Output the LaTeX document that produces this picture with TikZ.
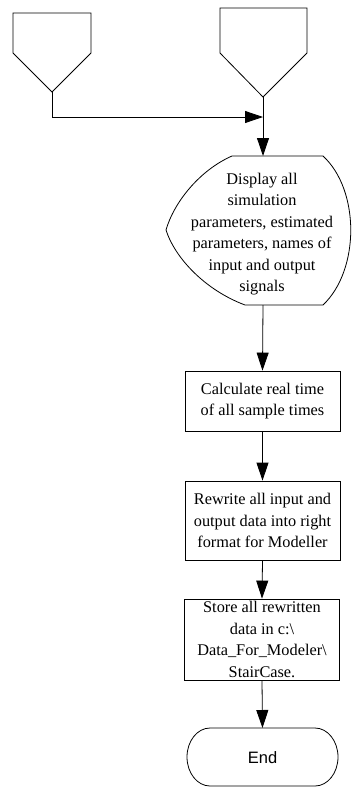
\documentclass[tikz,border=0pt]{standalone}
\usepackage{fontspec}
\setmainfont{Liberation Serif}
\newfontfamily\endfont{Liberation Sans}
\usetikzlibrary{arrows.meta}

\tikzset{
  line/.style={line width=0.8pt, line join=miter},
  flow/.style={line, -{Triangle[length=18pt,width=12pt]}},
  procbox/.style={line, draw, rectangle, minimum width=155pt, inner sep=0pt,
    align=center, font=\fontsize{16.3}{21.5}\selectfont},
  label/.style={align=center, inner sep=0pt, font=\fontsize{16.3}{21.5}\selectfont},
}

\begin{document}
\begin{tikzpicture}[x=1pt, y=-1pt]
\useasboundingbox (0,0) rectangle (352,787);

% off-page connectors at the top
\draw[line] (13,13) -- (91,13) -- (91,53) -- (52,92) -- (13,53) -- cycle;
\coordinate (leftin) at (52,92);
\draw[line] (220,8) -- (307,8) -- (307,53) -- (263,97) -- (220,53) -- cycle;
\coordinate (rightin) at (263,97);
\coordinate (bend) at (52,117);
\coordinate (join) at (263,117);

% display symbol
\draw[line] (232,156) -- (323,156)
  .. controls (360,190) and (360,270) .. (323,305)
  -- (245,305)
  .. controls (205,290) and (175,258) .. (166,230)
  .. controls (174,202) and (200,170) .. (232,156) -- cycle;
\coordinate (disptop) at (263,156);
\coordinate (dispbot) at (263,305);
\node[label] (disptext) at (262,234)
  {Display all\\ simulation\\ parameters, estimated\\ parameters, names of\\ input and output\\ signals};

% process boxes
\node[procbox, minimum height=60pt] (calc) at (262.5,401)
  {Calculate real time\\ of all sample times};
\node[procbox, minimum height=79pt] (rewrite) at (262.5,520.5)
  {Rewrite all input and\\ output data into right\\ format for Modeller};
\node[procbox, minimum height=81pt] (store) at (262,639.5)
  {Store all rewritten\\ data in c:\textbackslash\\ Data\_For\_Modeler\textbackslash\\ StairCase.};

% terminator
\draw[line] (210,728) -- (315,728) arc[start angle=90, end angle=-90, x radius=23, y radius=-29]
  -- (210,786) arc[start angle=270, end angle=90, x radius=23, y radius=-29] -- cycle;
\coordinate (endtop) at (262.5,728);
\node[inner sep=0pt, font=\endfont\fontsize{16.5}{20}\selectfont] (endtext) at (262.5,758) {End};

% connectors
\draw[line] (leftin) -- (bend);
\draw[flow] (bend) -- (join);
\draw[flow] (rightin) -- (disptop);
\draw[flow] (dispbot) -- (calc.north);
\draw[flow] (calc.south) -- (rewrite.north);
\draw[flow] (rewrite.south) -- (store.north);
\draw[flow] (store.south) -- (endtop);
\end{tikzpicture}
\end{document}
